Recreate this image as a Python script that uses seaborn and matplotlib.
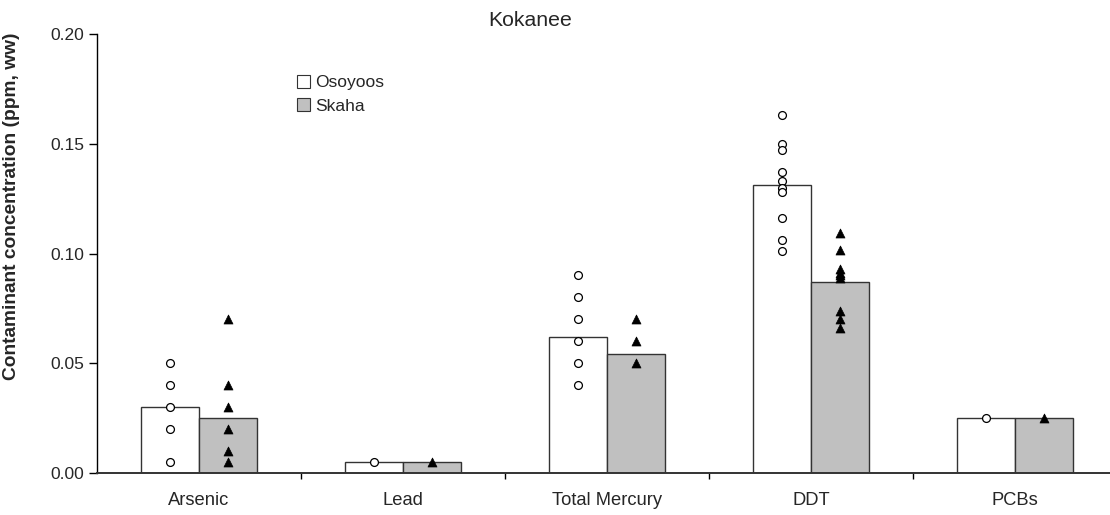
import matplotlib
matplotlib.use("Agg")
import matplotlib.pyplot as plt
import seaborn as sns
import pandas as pd
from matplotlib.patches import Patch
from matplotlib.ticker import FixedLocator, FormatStrFormatter

# ---- data ----
categories = ["Arsenic", "Lead", "Total Mercury", "DDT", "PCBs"]
lakes = ["Osoyoos", "Skaha"]
osoyoos_means = [0.030, 0.005, 0.062, 0.131, 0.025]
skaha_means = [0.025, 0.005, 0.054, 0.087, 0.025]

osoyoos_points = {
    "Arsenic": [0.050, 0.040, 0.030, 0.020, 0.005],
    "Lead": [0.005],
    "Total Mercury": [0.090, 0.080, 0.070, 0.060, 0.050, 0.040],
    "DDT": [0.163, 0.150, 0.147, 0.137, 0.133, 0.130, 0.128, 0.116, 0.106, 0.101],
    "PCBs": [0.025],
}
skaha_points = {
    "Arsenic": [0.070, 0.040, 0.030, 0.020, 0.010, 0.005],
    "Lead": [0.005],
    "Total Mercury": [0.070, 0.060, 0.050],
    "DDT": [0.1095, 0.1015, 0.093, 0.091, 0.090, 0.089, 0.074, 0.070, 0.066],
    "PCBs": [0.025],
}
yticks = [0.00, 0.05, 0.10, 0.15, 0.20]

# ---- tables ----
bars = pd.DataFrame({
    "category": categories * 2,
    "lake": [lakes[0]] * len(categories) + [lakes[1]] * len(categories),
    "value": osoyoos_means + skaha_means,
})

BAR_W = 0.57
offsets = {lakes[0]: -BAR_W / 4, lakes[1]: BAR_W / 4}

def points_df(pts, lake):
    rows = []
    for i, c in enumerate(categories):
        for v in pts[c]:
            rows.append({"x": i + offsets[lake], "value": v})
    return pd.DataFrame(rows)

pts_o = points_df(osoyoos_points, lakes[0])
pts_s = points_df(skaha_points, lakes[1])

# ---- style ----
sns.set_style("white")
plt.rcParams["font.family"] = ["Liberation Sans", "DejaVu Sans"]

W, H = 1110, 515
X0, CW = 97, 204
fig = plt.figure(figsize=(W / 100, H / 100), dpi=100)
ax = fig.add_axes([X0 / W, 1 - 473 / H, 5 * CW / W, 439 / H])

palette = {lakes[0]: "#FFFFFF", lakes[1]: "#C0C0C0"}
sns.barplot(data=bars, x="category", y="value", hue="lake", order=categories,
            hue_order=lakes, palette=palette, width=BAR_W, errorbar=None,
            edgecolor="#333333", linewidth=1.0, saturation=1, legend=False, ax=ax)

sns.scatterplot(data=pts_o, x="x", y="value", marker="o", s=32,
                facecolor="white", edgecolor="black", linewidth=0.9,
                ax=ax, zorder=5, legend=False)
sns.scatterplot(data=pts_s, x="x", y="value", marker="^", s=42,
                color="black", edgecolor="black", linewidth=0.5,
                ax=ax, zorder=5, legend=False)

ax.set_xlim(-0.5, len(categories) - 0.5)
ax.set_ylim(0, 0.2)
ax.yaxis.set_major_locator(FixedLocator(yticks))
ax.yaxis.set_major_formatter(FormatStrFormatter("%.2f"))

ax.set_xticks(range(len(categories)))
ax.set_xticklabels(categories)
ax.xaxis.set_minor_locator(FixedLocator([i + 0.5 for i in range(0, len(categories))]))
ax.tick_params(axis="x", which="major", length=0, pad=14, labelsize=13.2)
ax.tick_params(axis="x", which="minor", length=4, width=1, color="black", direction="out", bottom=True)
ax.tick_params(axis="y", which="major", length=6, width=1, color="black", direction="out",
               left=True, pad=3, labelsize=12.5)

for sp in ["top", "right"]:
    ax.spines[sp].set_visible(False)
ax.spines["left"].set_color("black")
ax.spines["left"].set_linewidth(1.0)
ax.spines["bottom"].set_color("#333333")
ax.spines["bottom"].set_linewidth(1.4)

ax.set_xlabel("")
ax.set_ylabel("Contaminant concentration (ppm, ww)", fontsize=13.8, fontweight="bold")
ax.yaxis.set_label_coords((20 - X0) / (5 * CW), (473 - 206) / 439)

fig.text(530 / W, 1 - 20 / H, "Kokanee", ha="center", va="center", fontsize=15.3)

handles = [Patch(facecolor=palette[l], edgecolor="#333333", linewidth=0.8, label=l) for l in lakes]
ax.legend(handles=handles, loc="upper left",
          bbox_to_anchor=((290 - X0) / (5 * CW), (473 - 68) / 439),
          frameon=False, fontsize=12.5, handlelength=0.75, handleheight=0.75,
          handletextpad=0.3, labelspacing=0.45, borderaxespad=0)

fig.savefig("out.png", dpi=100)
